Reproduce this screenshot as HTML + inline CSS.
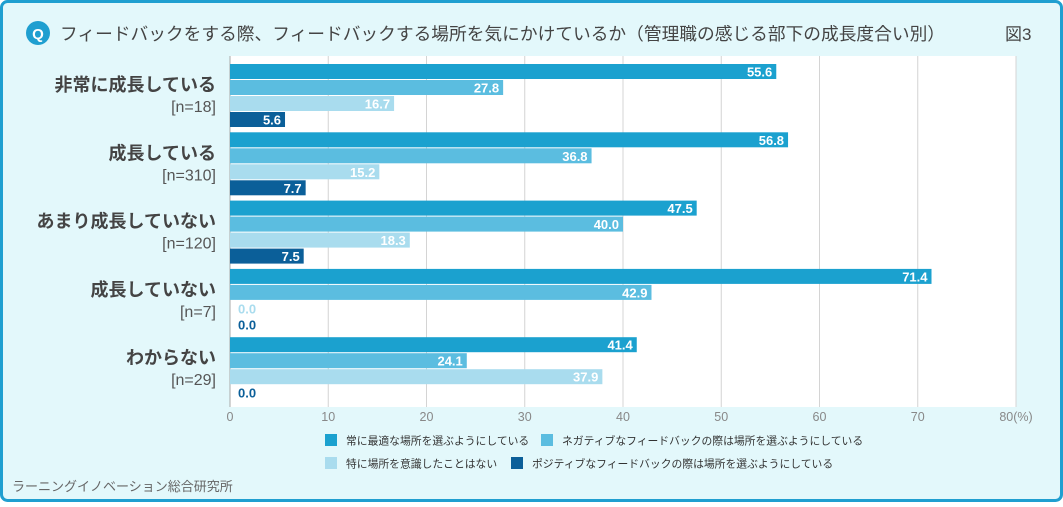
<!DOCTYPE html>
<html><head><meta charset="utf-8">
<style>
html,body{margin:0;padding:0;}
body{width:1063px;height:502px;overflow:hidden;background:#fff;font-family:"Liberation Sans","Noto Sans CJK JP",sans-serif;}
</style></head>
<body>
<svg id="chart" width="1063" height="502" xmlns="http://www.w3.org/2000/svg" style="font-family:'Liberation Sans','Noto Sans CJK JP',sans-serif">
<rect x="1.5" y="1.5" width="1060" height="499" rx="6" fill="#e3f8fb" stroke="#1f9fd0" stroke-width="3"/>
<circle cx="38" cy="33" r="12" fill="#1f9fd0"/>
<text x="38" y="39" text-anchor="middle" font-size="15" font-weight="bold" fill="#fff">Q</text>
<text x="60" y="40" font-size="17.5" fill="#444" textLength="885" lengthAdjust="spacingAndGlyphs">フィードバックをする際、フィードバックする場所を気にかけているか（管理職の感じる部下の成長度合い別）</text>
<text x="1005" y="40" font-size="17" fill="#444">図3</text>
<rect x="230" y="56" width="786" height="351" fill="#fff"/>
<g id="grid"></g><g id="bars"></g><g id="labels"></g>
<g id="legend"></g>
<text x="12" y="491" font-size="13" fill="#666">ラーニングイノベーション総合研究所</text>
</svg>
<script>
const categories=["非常に成長している","成長している","あまり成長していない","成長していない","わからない"];
const sampleSizes=["[n=18]","[n=310]","[n=120]","[n=7]","[n=29]"];
const seriesNames=["常に最適な場所を選ぶようにしている","ネガティブなフィードバックの際は場所を選ぶようにしている","特に場所を意識したことはない","ポジティブなフィードバックの際は場所を選ぶようにしている"];
const s1=[55.6,56.8,47.5,71.4,41.4];
const s2=[27.8,36.8,40.0,42.9,24.1];
const s3=[16.7,15.2,18.3,0.0,37.9];
const s4=[5.6,7.7,7.5,0.0,0.0];
const ticks=[0,10,20,30,40,50,60,70,80];
const series=[s1,s2,s3,s4];
const colors=["#1ba1cf","#5bbde0","#a9dcee","#0b5f99"];
const NS="http://www.w3.org/2000/svg";
const x=v=>230+v*9.825;
const groupY=i=>64+i*68.3;
function el(t,a,p,txt){const e=document.createElementNS(NS,t);for(const k in a)e.setAttribute(k,a[k]);if(txt!==undefined)e.textContent=txt;document.getElementById(p).appendChild(e);return e;}
ticks.forEach((t,i)=>{
  const g=el('line',{x1:x(t),x2:x(t),y1:56,y2:407,stroke:t===0?'#aaa':'#d4d4d4','stroke-width':1},'grid');
  
  
  const l=el('text',{x:x(t),y:421,'text-anchor':'middle','font-size':12.5,fill:'#888'},'grid',t===80?'80(%)':String(t));
  
  
});
categories.forEach((c,i)=>{
  const y0=groupY(i);
  const cl=el('text',{x:216,y:y0+27,'text-anchor':'end','font-size':18,'font-weight':'bold',fill:'#444'},'labels',c);
  
  
  const nl=el('text',{x:216,y:y0+48,'text-anchor':'end','font-size':16,fill:'#555'},'labels',sampleSizes[i]);
  
  
  series.forEach((s,j)=>{
    const v=s[i],by=y0+j*16;
    const r=el('rect',{x:230,y:by,width:x(v)-230,height:15,fill:colors[j]},'bars');
    
    
    let t;
    if(v>3){t=el('text',{x:x(v)-4,y:by+12.5,'text-anchor':'end','font-size':13,'font-weight':'bold',fill:'#fff'},'bars',v.toFixed(1));}
    else{t=el('text',{x:238,y:by+12.5,'font-size':13,'font-weight':'bold',fill:colors[j]},'bars',v.toFixed(1));}
    
    
  });
});
const legPos=[[325,440],[541,440],[325,463],[511,463]];
seriesNames.forEach((n,j)=>{
  const [lx,ly]=legPos[j];
  const sw=el('rect',{x:lx,y:ly-6,width:12,height:12,fill:colors[j]},'legend');
  
  
  const t=el('text',{x:lx+21,y:ly+4.5,'font-size':10.8,fill:'#333'},'legend',n);
  
  
});
</script>
</body></html>
